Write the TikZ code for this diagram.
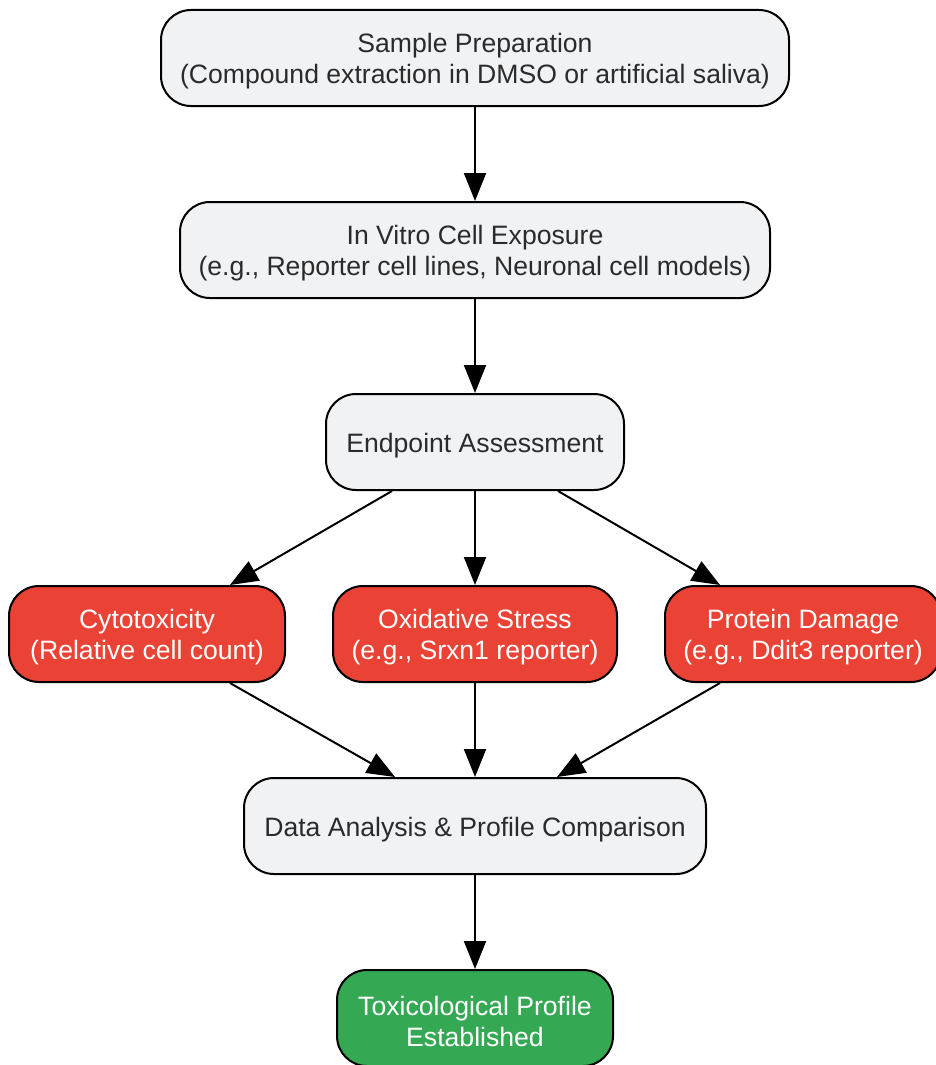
\documentclass[tikz,border=0pt]{standalone}
\usepackage{fontspec}
\setmainfont{Liberation Sans}
\usetikzlibrary{arrows.meta}
\definecolor{boxgrey}{HTML}{F1F2F4}
\definecolor{boxred}{HTML}{EA4335}
\definecolor{boxgreen}{HTML}{34A853}
\definecolor{txtdark}{HTML}{2B2B2B}
\newcommand\topstrut{\rule{0pt}{26pt}}
\tikzset{
  box/.style={draw=black, line width=2pt, rounded corners=30pt, align=center,
    font=\fontsize{26.6}{31}\selectfont, inner sep=0pt, minimum height=96pt},
  greybox/.style={box, fill=boxgrey, text=txtdark},
  redbox/.style={box, fill=boxred, text=white},
  greenbox/.style={box, fill=boxgreen, text=white},
  arr/.style={line width=2pt, -{Triangle[length=28pt,width=22pt]}}
}
\begin{document}
\begin{tikzpicture}[x=1pt,y=-1pt]
\useasboundingbox (0,0) rectangle (935,1065);
\node[greybox, minimum width=628pt] (prep) at (475,58) {\topstrut Sample Preparation\\(Compound extraction in DMSO or artificial saliva)};
\node[greybox, minimum width=590pt] (vitro) at (475,250) {\topstrut In Vitro Cell Exposure\\(e.g., Reporter cell lines, Neuronal cell models)};
\node[greybox, minimum width=298pt] (end) at (475,442) {\topstrut Endpoint Assessment};
\node[redbox, minimum width=276pt] (cyto) at (147,634) {\topstrut Cytotoxicity\\(Relative cell count)};
\node[redbox, minimum width=284pt] (oxi) at (475,634) {\topstrut Oxidative Stress\\(e.g., Srxn1 reporter)};
\node[redbox, minimum width=276pt] (prot) at (803,634) {\topstrut Protein Damage\\(e.g., Ddit3 reporter)};
\node[greybox, minimum width=462pt] (data) at (475,826) {\topstrut Data Analysis \& Profile Comparison};
\node[greenbox, minimum width=276pt] (tox) at (475,1018) {\topstrut Toxicological Profile\\Established};
\coordinate (e1) at ([xshift=-83pt]end.south);
\coordinate (e3) at ([xshift=83pt]end.south);
\coordinate (c1) at ([xshift=83pt]cyto.south);
\coordinate (p1) at ([xshift=-83pt]prot.south);
\draw[arr] (prep) -- (vitro);
\draw[arr] (vitro) -- (end);
\draw[arr] (e1) -- (cyto.north -| 230,0);
\draw[arr] (end) -- (oxi);
\draw[arr] (e3) -- (prot.north -| 720,0);
\draw[arr] (c1) -- (data.north -| 395,0);
\draw[arr] (oxi) -- (data);
\draw[arr] (p1) -- (data.north -| 557,0);
\draw[arr] (data) -- (tox);
\end{tikzpicture}
\end{document}
